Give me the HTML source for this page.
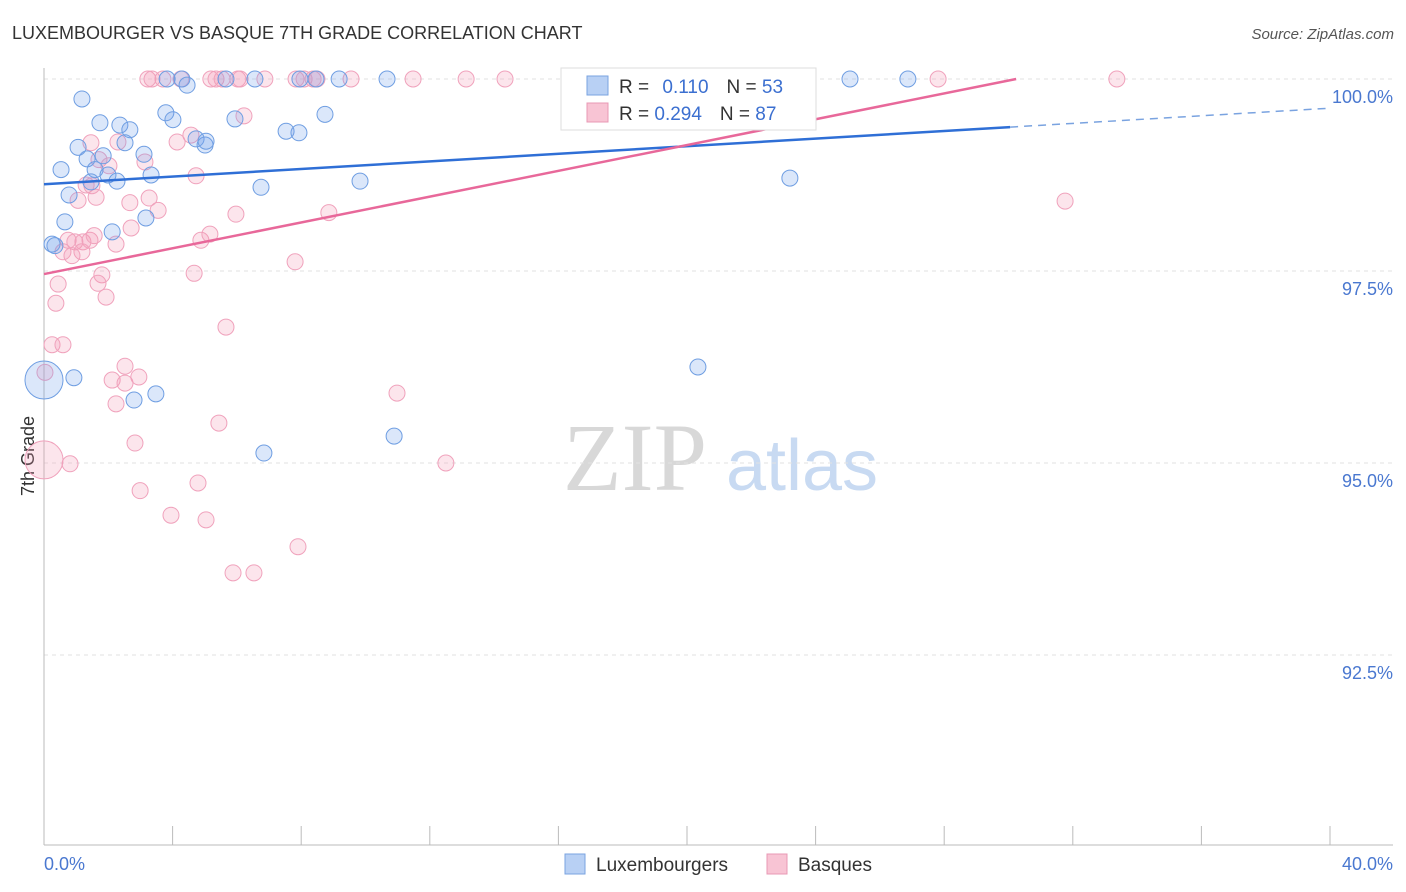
<!DOCTYPE html>
<html><head><meta charset="utf-8"><style>
body{margin:0;background:#fff;font-family:"Liberation Sans",sans-serif;}
#wrap{position:relative;width:1406px;height:892px;overflow:hidden;}
</style></head><body>
<div id="wrap">
<svg id="svg" width="1406" height="892" xmlns="http://www.w3.org/2000/svg">
<text x="12" y="39" font-size="18" fill="#333">LUXEMBOURGER VS BASQUE 7TH GRADE CORRELATION CHART</text>
<text x="1394" y="39" font-size="15" fill="#555" font-style="italic" text-anchor="end">Source: ZipAtlas.com</text>
<text x="34" y="456" font-size="18" fill="#333" transform="rotate(-90 34 456)" text-anchor="middle">7th Grade</text>
<g><text x="635" y="490" font-size="96" fill="#d8d8d8" font-family="Liberation Serif,serif" text-anchor="middle">ZIP</text><text x="802" y="490" font-size="72" fill="#c8daf2" text-anchor="middle">atlas</text></g>
<g id="grid"></g><g id="axes"></g><g id="pts"></g><g id="lines"></g>
<g>
<rect x="561" y="68" width="255" height="62" fill="#fff" stroke="#ddd"/>
<rect x="587" y="76" width="21" height="19" fill="#b8d0f4" stroke="#7aa3e0"/>
<text x="619" y="93" font-size="19" fill="#333">R = <tspan fill="#3b6fd0" dx="8">0.110</tspan><tspan fill="#333" dx="18">N = </tspan><tspan fill="#3b6fd0">53</tspan></text>
<rect x="587" y="103" width="21" height="19" fill="#f8c4d4" stroke="#e898b4"/>
<text x="619" y="120" font-size="19" fill="#333">R = <tspan fill="#3b6fd0">0.294</tspan><tspan fill="#333" dx="18">N = </tspan><tspan fill="#3b6fd0">87</tspan></text>
</g>
<g>
<rect x="565" y="854" width="20" height="20" fill="#b8d0f4" stroke="#7aa3e0"/>
<text x="596" y="871" font-size="19" fill="#333">Luxembourgers</text>
<rect x="767" y="854" width="20" height="20" fill="#f8c4d4" stroke="#e898b4"/>
<text x="798" y="871" font-size="19" fill="#333">Basques</text>
</g>
</svg></div>
<script>
const yTicks=[100,97.5,95,92.5];
const yTickLabels=["100.0%","97.5%","95.0%","92.5%"];
const xTickLabels=["0.0%","40.0%"];
const blueX=[1.18,1.74,2.36,2.67,1.34,0.53,1.06,1.84,1.59,0.78,1.46,1.99,2.27,2.52,3.11,3.33,3.17,0.65,2.12,0.25,0.34,3.79,4.01,4.29,4.45,4.73,5.01,5.04,5.94,5.66,6.56,6.75,7.53,7.93,7.96,8.46,8.74,9.18,9.83,10.67,10.89,6.84,3.48,2.80,0.93,0,20.34,23.20,25.07,26.87,3.83];
const blueY=[99.74,99.43,99.40,99.34,98.96,98.82,99.11,99.00,98.82,98.49,98.66,98.75,98.67,99.17,99.02,98.75,98.19,98.14,98.01,97.85,97.83,99.56,99.47,100,99.92,99.22,99.14,99.19,99.48,100,100,98.59,99.32,99.30,100,100,99.54,100,98.67,100,95.35,95.13,95.90,95.82,96.11,96.08,96.25,98.71,100,100,100];
const pinkX=[0,0.81,0.25,0.59,0.37,0.44,0.03,0.75,0.96,1.21,1.43,1.18,0.59,0.87,1.06,1.31,1.62,1.71,1.46,2.30,2.67,2.71,3.27,3.55,2.24,1.80,1.68,1.93,2.52,2.12,2.52,2.95,2.24,2.83,2.99,3.95,4.79,5.04,5.44,5.66,4.67,4.88,5.16,5.97,6.22,4.57,4.14,4.73,3.14,5.88,6.53,7.90,7.81,8.86,10.98,12.50,3.23,3.36,3.70,4.26,5.19,5.35,5.54,6.03,6.10,6.87,7.84,8.09,8.37,8.49,9.55,11.48,13.13,14.34,20.81,27.81,33.37,31.76,2.02,1.49,1.56];
const pinkY=[95.04,94.99,96.54,96.54,97.08,97.33,96.18,97.90,97.88,97.88,97.90,97.75,97.75,97.70,98.42,98.62,98.46,98.95,99.17,99.18,98.39,98.06,98.45,98.29,97.85,97.45,97.34,97.16,96.26,96.08,96.04,96.12,95.77,95.26,94.64,94.32,94.74,94.26,95.52,96.77,97.47,97.90,97.98,98.24,99.52,99.27,99.18,98.74,98.92,93.57,93.57,93.91,97.62,98.26,95.91,95.00,100,100,100,100,100,100,100,100,100,100,100,100,100,100,100,100,100,100,100,100,100,98.41,98.87,98.61,97.96];
const blueTrend=[98.63,99.62]; // value at 0% and 40%
const pinkTrend=[97.46,100.82];
const X0=44,X1=1330,YT=79;
const xs=v=>X0+(v/40)*(X1-X0);
const ys=v=>YT+(100-v)*76.8;
const NS="http://www.w3.org/2000/svg";
function mk(tag,attrs,parent){const e=document.createElementNS(NS,tag);for(const k in attrs)e.setAttribute(k,attrs[k]);document.getElementById(parent).appendChild(e);return e;}
yTicks.forEach((t,i)=>{
 const l=mk('line',{x1:X0,x2:1393,y1:ys(t),y2:ys(t),stroke:'#e2e2e2','stroke-dasharray':'4,4'},'grid');
 
 
 const tx=mk('text',{x:1393,y:ys(t)+24,'font-size':18,fill:'#4a78d0','text-anchor':'end'},'grid');
 tx.textContent=yTickLabels[i];
 
 
});
const ax=mk('line',{x1:X0,x2:1393,y1:845,y2:845,stroke:'#bbb'},'axes');


const ay=mk('line',{x1:X0,x2:X0,y1:68,y2:845,stroke:'#bbb'},'axes');


for(let k=0;k<=10;k++){
 const t=mk('line',{x1:xs(k*4),x2:xs(k*4),y1:826,y2:845,stroke:'#bbb'},'axes');
 
 
}
[[0,'start'],[40,'end']].forEach((p,i)=>{
 const t=mk('text',{x:i?1393:X0,y:870,'font-size':18,fill:'#4a78d0','text-anchor':p[1]},'axes');
 t.textContent=xTickLabels[i];
 
 
});
function dots(X,Y,fill,stroke,name){X.forEach((x,i)=>{
 const big=(x===0&&(Y[i]<96.2));
 const c=mk('circle',{cx:xs(x),cy:ys(Y[i]),r:big?19:8,fill:fill,stroke:stroke,'stroke-width':1},'pts');
 
 
});}
dots(pinkX,pinkY,'rgba(244,150,180,0.25)','#f0a2bc','basque-point');
dots(blueX,blueY,'rgba(110,160,235,0.25)','#6f9ee2','luxembourger-point');
const bAt=v=>blueTrend[0]+(blueTrend[1]-blueTrend[0])*v/40;
const pAt=v=>pinkTrend[0]+(pinkTrend[1]-pinkTrend[0])*v/40;
let l1=mk('line',{x1:xs(0),y1:ys(bAt(0)),x2:xs(30.05),y2:ys(bAt(30.05)),stroke:'#2f6fd6','stroke-width':2.5},'lines');


let l2=mk('line',{x1:xs(30.05),y1:ys(bAt(30.05)),x2:xs(40),y2:ys(bAt(40)),stroke:'#7aa3e0','stroke-width':1.5,'stroke-dasharray':'8,6'},'lines');


const pEnd=(100-pinkTrend[0])/(pinkTrend[1]-pinkTrend[0])*40;
let l3=mk('line',{x1:xs(0),y1:ys(pAt(0)),x2:xs(pEnd),y2:ys(pAt(pEnd)),stroke:'#e8689a','stroke-width':2.5},'lines');


</script>
</body></html>
